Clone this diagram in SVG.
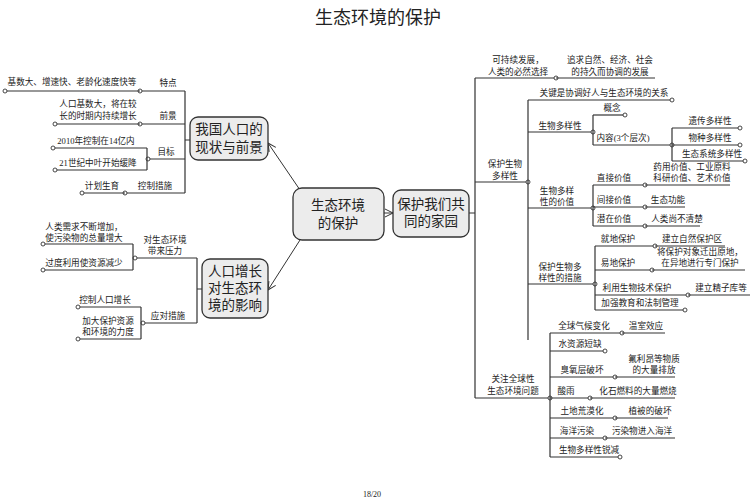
<svg xmlns="http://www.w3.org/2000/svg" width="755" height="500" viewBox="0 0 755 500">
<style>
text{font-family:"Liberation Serif","Noto Sans CJK SC",serif;font-size:8.6px;fill:#222;text-anchor:middle}
.t{font-size:18px}
.n{font-size:13.5px}
.box{fill:#ececec;stroke:#333;stroke-width:1.3}
.l{stroke:#333;stroke-width:1.2;fill:none}
.m{stroke:#333;stroke-width:1.2;fill:none;marker-end:url(#c)}
.a{stroke:#333;stroke-width:1;fill:none;marker-end:url(#ar)}
</style>
<defs>
<marker id="c" markerWidth="6" markerHeight="6" refX="3" refY="3" markerUnits="userSpaceOnUse"><circle cx="3" cy="3" r="2" fill="#fff" stroke="#333" stroke-width="0.9"/></marker>
<marker id="ar" markerWidth="10" markerHeight="10" refX="9" refY="5" orient="auto" markerUnits="userSpaceOnUse"><path d="M1,1 L9,5 L1,9" fill="none" stroke="#333"/></marker>
</defs>
<rect width="755" height="500" fill="#fff"/>
<text class="t" x="378" y="24">生态环境的保护</text>
<text x="372" y="497" style="font-size:8px">18/20</text>

<g id="connectors">
<path class="a" d="M300,190 L268,143"/>
<path class="a" d="M300,240 L268,290"/>
<path class="a" d="M384,213 L393,213"/>
<path class="l" d="M185,91 V193 M185,140 H190"/>
<path class="m" d="M185,91 H140"/><path class="m" d="M140,91 H5"/>
<path class="m" d="M185,124 H140"/><path class="m" d="M140,124 H55"/>
<path class="m" d="M185,159 H148"/><path class="l" d="M147,148 V170"/>
<path class="m" d="M147,148 H53"/><path class="m" d="M147,170 H55"/>
<path class="m" d="M185,193 H125"/><path class="m" d="M125,193 H82"/>
<path class="l" d="M197,258 V323 M197,289 H202"/>
<path class="m" d="M197,258 H135"/><path class="l" d="M133,244 V270"/>
<path class="m" d="M133,244 H43"/><path class="m" d="M133,270 H43"/>
<path class="m" d="M197,323 H143"/><path class="l" d="M141,307 V339"/>
<path class="m" d="M141,307 H78"/><path class="m" d="M141,339 H78"/>
<path class="l" d="M469,213 H475 M475,78 V398"/>
<path class="m" d="M475,78 H556"/><path class="l" d="M556,78 H655"/>
<path class="m" d="M475,182 H528"/><path class="l" d="M528,100 V340"/>
<path class="m" d="M528,100 H672"/>
<path class="m" d="M528,132 H593"/><path class="l" d="M593,115 V145"/>
<path class="m" d="M593,115 H625"/><path class="m" d="M593,145 H672"/>
<path class="l" d="M672,128 V161"/>
<path class="m" d="M672,128 H740"/><path class="m" d="M672,145 H740"/><path class="m" d="M672,161 H745"/>
<path class="m" d="M528,208 H593"/><path class="l" d="M593,185 V226"/>
<path class="m" d="M593,185 H645"/><path class="l" d="M645,185 H730"/>
<path class="m" d="M593,207 H645"/><path class="l" d="M645,207 H685"/>
<path class="m" d="M593,226 H645"/><path class="l" d="M645,226 H700"/>
<path class="m" d="M528,284 H595"/><path class="l" d="M595,246 V310"/>
<path class="m" d="M595,246 H655"/><path class="l" d="M655,246 H725"/>
<path class="m" d="M595,270 H652"/><path class="l" d="M652,270 H745"/>
<path class="m" d="M595,295 H688"/><path class="l" d="M688,295 H750"/>
<path class="m" d="M595,310 H685"/>
<path class="m" d="M475,398 H550"/><path class="l" d="M550,333 V457"/>
<path class="m" d="M550,333 H622"/><path class="l" d="M622,333 H665"/>
<path class="m" d="M550,351 H605"/>
<path class="m" d="M550,377 H615"/><path class="l" d="M615,377 H675"/>
<path class="m" d="M550,398 H590"/><path class="l" d="M590,398 H675"/>
<path class="m" d="M550,418 H615"/><path class="l" d="M615,418 H668"/>
<path class="m" d="M550,438 H605"/><path class="l" d="M605,438 H675"/>
<path class="m" d="M550,457 H620"/>
</g>

<g id="center"><rect class="box" x="293" y="188" width="91" height="52" rx="9"/><text class="n" x="338" y="210">生态环境</text><text class="n" x="338" y="228">的保护</text></g>
<g id="home"><rect class="box" x="393" y="190" width="76" height="47" rx="8"/><text class="n" x="431" y="209">保护我们共</text><text class="n" x="431" y="226">同的家园</text></g>
<g id="pop"><rect class="box" x="190" y="117" width="78" height="43" rx="8"/><text class="n" x="229" y="134">我国人口的</text><text class="n" x="229" y="152">现状与前景</text></g>
<g id="impact"><rect class="box" x="202" y="259" width="66" height="59" rx="8"/><text class="n" x="235" y="276">人口增长</text><text class="n" x="235" y="293">对生态环</text><text class="n" x="235" y="310">境的影响</text></g>

<g id="left-labels">
<text x="168" y="86">特点</text><text x="72" y="85">基数大、增速快、老龄化速度快等</text>
<text x="168" y="119">前景</text><text x="98" y="107">人口基数大，将在较</text><text x="98" y="119">长的时期内持续增长</text>
<text x="166" y="155">目标</text><text x="96" y="144">2010年控制在14亿内</text><text x="98" y="166">21世纪中叶开始缓降</text>
<text x="155" y="189">控制措施</text><text x="102" y="189">计划生育</text>
<text x="165" y="243">对生态环境</text><text x="165" y="254">带来压力</text>
<text x="84" y="230">人类需求不断增加，</text><text x="84" y="241">使污染物的总量增大</text>
<text x="84" y="266">过度利用使资源减少</text>
<text x="168" y="319">应对措施</text>
<text x="105" y="303">控制人口增长</text>
<text x="108" y="324">加大保护资源</text><text x="108" y="335">和环境的力度</text>
</g>

<g id="right-labels">
<text x="518" y="63">可持续发展，</text><text x="518" y="75">人类的必然选择</text>
<text x="610" y="63">追求自然、经济、社会</text><text x="610" y="75">的持久而协调的发展</text>
<text x="505" y="167">保护生物</text><text x="505" y="179">多样性</text>
<text x="604" y="96">关键是协调好人与生态环境的关系</text>
<text x="560" y="129">生物多样性</text>
<text x="612" y="111">概念</text><text x="623" y="141">内容(3个层次)</text>
<text x="710" y="124">遗传多样性</text><text x="710" y="141">物种多样性</text><text x="712" y="157">生态系统多样性</text>
<text x="557" y="194">生物多样</text><text x="557" y="205">性的价值</text>
<text x="614" y="181">直接价值</text><text x="692" y="170">药用价值、工业原料</text><text x="692" y="181">科研价值、艺术价值</text>
<text x="614" y="203">间接价值</text><text x="668" y="203">生态功能</text>
<text x="614" y="222">潜在价值</text><text x="677" y="222">人类尚不清楚</text>
<text x="560" y="270">保护生物多</text><text x="560" y="281">样性的措施</text>
<text x="618" y="242">就地保护</text><text x="692" y="242">建立自然保护区</text>
<text x="618" y="266">易地保护</text><text x="700" y="255">将保护对象迁出原地，</text><text x="700" y="266">在异地进行专门保护</text>
<text x="637" y="291">利用生物技术保护</text><text x="721" y="291">建立精子库等</text>
<text x="640" y="306">加强教育和法制管理</text>
<text x="513" y="382">关注全球性</text><text x="513" y="394">生态环境问题</text>
<text x="584" y="329">全球气候变化</text><text x="646" y="329">温室效应</text>
<text x="580" y="347">水资源短缺</text>
<text x="582" y="373">臭氧层破坏</text><text x="654" y="362">氟利昂等物质</text><text x="654" y="373">的大量排放</text>
<text x="566" y="394">酸雨</text><text x="638" y="394">化石燃料的大量燃烧</text>
<text x="582" y="414">土地荒漠化</text><text x="650" y="414">植被的破坏</text>
<text x="577" y="434">海洋污染</text><text x="642" y="434">污染物进入海洋</text>
<text x="589" y="453">生物多样性锐减</text>
</g>
</svg>
